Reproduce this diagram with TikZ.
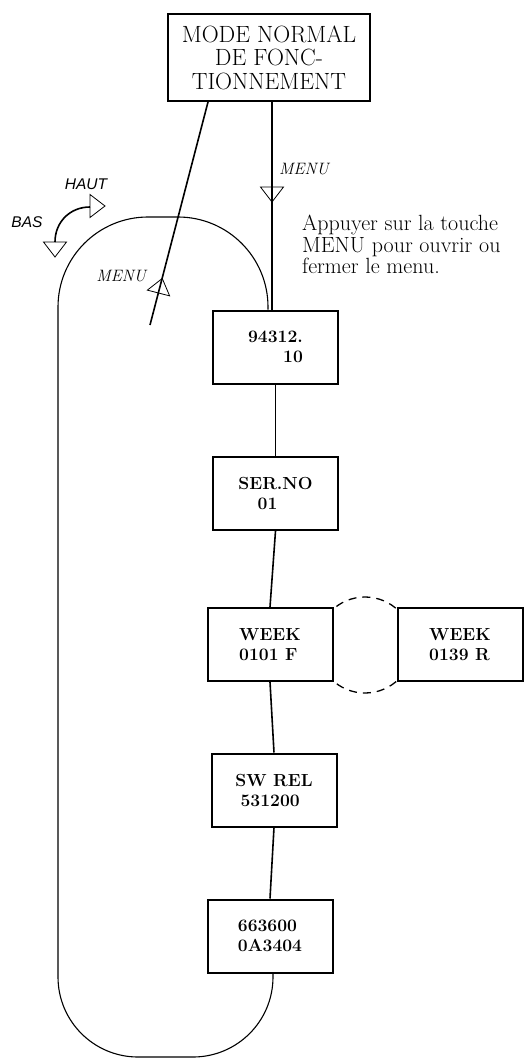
\documentclass[tikz,border=0pt]{standalone}
\usepackage{fontspec}
\newfontfamily\arialfont{Liberation Sans}

\begin{document}
\begin{tikzpicture}[x=1pt, y=-1pt,
    dispbox/.style={draw, line width=2pt, fill=white, minimum width=125pt, minimum height=73pt, inner sep=0pt, font=\fontsize{17.5}{20}\selectfont\bfseries},
    link/.style={line width=1.6pt},
    tri/.style={line width=0.8pt},
    menuloop/.style={line width=1.1pt, rounded corners=90pt},
    lbl/.style={inner sep=0pt, font=\fontsize{16.5}{16.5}\selectfont\itshape},
    sanslbl/.style={inner sep=0pt, font=\arialfont\fontsize{15.5}{15.5}\selectfont\itshape}]
\useasboundingbox (0,0) rectangle (531,1059);

% dashed link between the two WEEK displays
\draw[dash pattern=on 8pt off 6pt, line width=1.3pt] (365,645) circle (48pt);

\node[draw, line width=2pt, minimum width=202pt, minimum height=87pt, align=center, inner sep=0pt, font=\fontsize{23.5}{23.5}\selectfont] (mode) at (269,57.5) {MODE NORMAL\\DE FONC-\\TIONNEMENT};
\node[dispbox, align=right] (b1) at (275.5,347) {94312.\\10};
\node[dispbox, align=left] (b2) at (275.5,493.5) {SER.NO\\\hspace*{1.1em}01};
\node[dispbox, align=left] (b3) at (270,644.5) {WEEK\\0101 F};
\node[dispbox, align=left] (b3r) at (460,644.5) {WEEK\\0139 R};
\node[dispbox, align=left] (b4) at (274,790) {SW REL\\\hspace*{.3em}531200};
\node[dispbox, align=left] (b5) at (270,936) {663600\\0A3404};
\coordinate (menuend) at (150,325);

\draw[link] ([xshift=3pt]mode.south) -- ([xshift=-3.5pt]b1.north);
\draw[link] ([xshift=-61pt]mode.south) -- (menuend);
\draw[link] (b1.south) -- (b2.north);
\draw[link] (b2.south) -- (b3.north);
\draw[link] (b3.south) -- (b4.north);
\draw[link] (b4.south) -- (b5.north);
\draw[menuloop] ([xshift=-7.5pt]b1.north) |- (58,217) [rounded corners=80pt] -- (58,1057) -| ([xshift=3pt]b5.south);

% HAUT / BAS
\draw[link] (55,242) .. controls (55,222) and (70,207) .. (90,207);
\foreach \px/\py/\ang in {272/187/0, 158.5/293/165.5, 90/206/90, 55/242/0}
    \draw[tri, shift={(\px,\py)}, rotate=\ang] (-11.5,0) -- (11.5,0) -- (0,15) -- cycle;

\node[lbl, anchor=west] (menuv) at (279,169) {MENU};
\node[lbl, anchor=east] (menus) at (146,276) {MENU};
\node[sanslbl] (haut) at (86,184) {HAUT};
\node[sanslbl] (bas) at (27,222) {BAS};
\node[anchor=north west, inner sep=0pt, align=left, font=\fontsize{22}{21.5}\selectfont] (hint) at (302,215) {Appuyer sur la touche\\MENU pour ouvrir ou\\fermer le menu.};
\end{tikzpicture}
\end{document}
